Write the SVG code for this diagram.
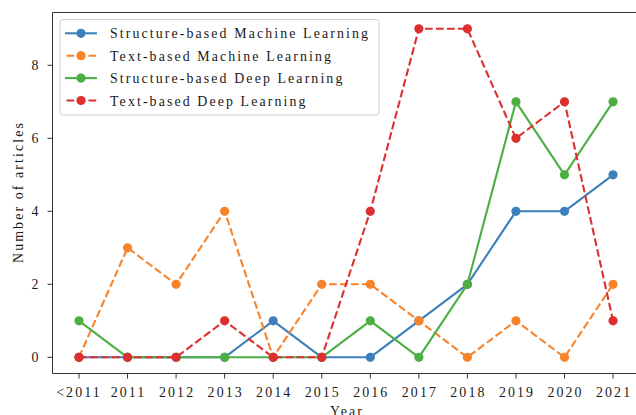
<svg xmlns="http://www.w3.org/2000/svg" width="636" height="415" viewBox="0 0 636 415">
<style>
text{font-family:"Liberation Serif","Times New Roman",Times,serif;font-size:13.9px;letter-spacing:2.1px;fill:#1a1a1a}
.xt{text-anchor:middle}
.yt{text-anchor:end}
.spine{stroke:#333;stroke-width:1;fill:none}
.tick{stroke:#333;stroke-width:1}
.ln{fill:none;stroke-width:2.1;stroke-linejoin:round}
.dash{stroke-dasharray:7.7 3.3}
.blue{stroke:#3d7fba}.orange{stroke:#f7832a}.green{stroke:#4cae43}.red{stroke:#dc2f2f}
.mb{fill:#3d7fba}.mo{fill:#f7832a}.mg{fill:#4cae43}.mr{fill:#dc2f2f}
</style>
<rect width="636" height="415" fill="#fff"/>
<g id="axes" font-family="Liberation Serif, serif">
<path class="spine" d="M52.5,373.5 V12.5 H640 M52.5,373.5 H640"/>
<g class="tick">
<path d="M79,373.5v5M127.55,373.5v5M176.1,373.5v5M224.65,373.5v5M273.2,373.5v5M321.75,373.5v5M370.3,373.5v5M418.85,373.5v5M467.4,373.5v5M515.95,373.5v5M564.5,373.5v5M613.05,373.5v5"/>
<path d="M52.5,357.3h-5M52.5,284.3h-5M52.5,211.3h-5M52.5,138.3h-5M52.5,65.3h-5"/>
</g>
<g>
<text class="xt" x="79" y="396.5">&lt;2011</text>
<text class="xt" x="128.6" y="396.5">2011</text>
<text class="xt" x="177.1" y="396.5">2012</text>
<text class="xt" x="225.7" y="396.5">2013</text>
<text class="xt" x="274.2" y="396.5">2014</text>
<text class="xt" x="322.8" y="396.5">2015</text>
<text class="xt" x="371.3" y="396.5">2016</text>
<text class="xt" x="419.9" y="396.5">2017</text>
<text class="xt" x="468.4" y="396.5">2018</text>
<text class="xt" x="517" y="396.5">2019</text>
<text class="xt" x="565.5" y="396.5">2020</text>
<text class="xt" x="614.1" y="396.5">2021</text>
<text class="yt" x="40.5" y="361.9">0</text>
<text class="yt" x="40.5" y="288.9">2</text>
<text class="yt" x="40.5" y="215.9">4</text>
<text class="yt" x="40.5" y="142.9">6</text>
<text class="yt" x="40.5" y="69.9">8</text>
<text class="xt" x="347" y="416">Year</text>
<text class="xt" transform="translate(22.5,193) rotate(-90)" x="1" y="0">Number of articles</text>
</g>
</g>
<g id="connectors">
<polyline class="ln blue" points="79,357.3 127.55,357.3 176.1,357.3 224.65,357.3 273.2,320.8 321.75,357.3 370.3,357.3 418.85,320.8 467.4,284.3 515.95,211.3 564.5,211.3 613.05,174.8"/>
<g class="mb"><circle cx="79" cy="357.3" r="4.6"/><circle cx="127.55" cy="357.3" r="4.6"/><circle cx="176.1" cy="357.3" r="4.6"/><circle cx="224.65" cy="357.3" r="4.6"/><circle cx="273.2" cy="320.8" r="4.6"/><circle cx="321.75" cy="357.3" r="4.6"/><circle cx="370.3" cy="357.3" r="4.6"/><circle cx="418.85" cy="320.8" r="4.6"/><circle cx="467.4" cy="284.3" r="4.6"/><circle cx="515.95" cy="211.3" r="4.6"/><circle cx="564.5" cy="211.3" r="4.6"/><circle cx="613.05" cy="174.8" r="4.6"/></g>
<polyline class="ln orange dash" points="79,357.3 127.55,247.8 176.1,284.3 224.65,211.3 273.2,357.3 321.75,284.3 370.3,284.3 418.85,320.8 467.4,357.3 515.95,320.8 564.5,357.3 613.05,284.3"/>
<g class="mo"><circle cx="79" cy="357.3" r="4.6"/><circle cx="127.55" cy="247.8" r="4.6"/><circle cx="176.1" cy="284.3" r="4.6"/><circle cx="224.65" cy="211.3" r="4.6"/><circle cx="273.2" cy="357.3" r="4.6"/><circle cx="321.75" cy="284.3" r="4.6"/><circle cx="370.3" cy="284.3" r="4.6"/><circle cx="418.85" cy="320.8" r="4.6"/><circle cx="467.4" cy="357.3" r="4.6"/><circle cx="515.95" cy="320.8" r="4.6"/><circle cx="564.5" cy="357.3" r="4.6"/><circle cx="613.05" cy="284.3" r="4.6"/></g>
<polyline class="ln green" points="79,320.8 127.55,357.3 176.1,357.3 224.65,357.3 273.2,357.3 321.75,357.3 370.3,320.8 418.85,357.3 467.4,284.3 515.95,101.8 564.5,174.8 613.05,101.8"/>
<g class="mg"><circle cx="79" cy="320.8" r="4.6"/><circle cx="127.55" cy="357.3" r="4.6"/><circle cx="176.1" cy="357.3" r="4.6"/><circle cx="224.65" cy="357.3" r="4.6"/><circle cx="273.2" cy="357.3" r="4.6"/><circle cx="321.75" cy="357.3" r="4.6"/><circle cx="370.3" cy="320.8" r="4.6"/><circle cx="418.85" cy="357.3" r="4.6"/><circle cx="467.4" cy="284.3" r="4.6"/><circle cx="515.95" cy="101.8" r="4.6"/><circle cx="564.5" cy="174.8" r="4.6"/><circle cx="613.05" cy="101.8" r="4.6"/></g>
<polyline class="ln red dash" points="79,357.3 127.55,357.3 176.1,357.3 224.65,320.8 273.2,357.3 321.75,357.3 370.3,211.3 418.85,28.8 467.4,28.8 515.95,138.3 564.5,101.8 613.05,320.8"/>
<g class="mr"><circle cx="79" cy="357.3" r="4.6"/><circle cx="127.55" cy="357.3" r="4.6"/><circle cx="176.1" cy="357.3" r="4.6"/><circle cx="224.65" cy="320.8" r="4.6"/><circle cx="273.2" cy="357.3" r="4.6"/><circle cx="321.75" cy="357.3" r="4.6"/><circle cx="370.3" cy="211.3" r="4.6"/><circle cx="418.85" cy="28.8" r="4.6"/><circle cx="467.4" cy="28.8" r="4.6"/><circle cx="515.95" cy="138.3" r="4.6"/><circle cx="564.5" cy="101.8" r="4.6"/><circle cx="613.05" cy="320.8" r="4.6"/></g>
</g>
<g id="legend" font-family="Liberation Serif, serif">
<rect x="60" y="19.5" width="319" height="95.5" rx="2.8" fill="#fff" fill-opacity="0.8" stroke="#d0d0d0" stroke-width="1"/>
<line class="ln blue" x1="65" y1="33.3" x2="97" y2="33.3"/><circle class="mb" cx="81" cy="33.3" r="4.6"/>
<text x="110" y="38.3">Structure-based Machine Learning</text>
<line class="ln orange dash" x1="65" y1="55.7" x2="97" y2="55.7" stroke-dashoffset="-1.5"/><circle class="mo" cx="81" cy="55.7" r="4.6"/>
<text x="110" y="60.7">Text-based Machine Learning</text>
<line class="ln green" x1="65" y1="78.1" x2="97" y2="78.1"/><circle class="mg" cx="81" cy="78.1" r="4.6"/>
<text x="110" y="83.1">Structure-based Deep Learning</text>
<line class="ln red dash" x1="65" y1="100.5" x2="97" y2="100.5" stroke-dashoffset="-1.5"/><circle class="mr" cx="81" cy="100.5" r="4.6"/>
<text x="110" y="105.5">Text-based Deep Learning</text>
</g>
</svg>
